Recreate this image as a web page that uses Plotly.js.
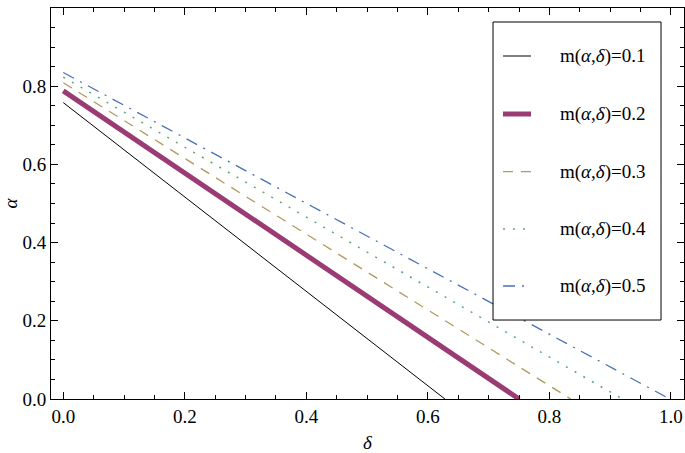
<!DOCTYPE html>
<html>
<head>
<meta charset="utf-8">
<script src="https://cdn.plot.ly/plotly-3.0.1.min.js"></script>
<style>html,body{margin:0;padding:0;background:#fff;}#chart{width:685px;height:453px;}</style>
</head>
<body>
<div id="chart"></div>
<script>
// Series: each line runs from (delta=0, alpha=alphaAtZero) to (delta=deltaAtZero, alpha=0)
const mValues = ["0.1", "0.2", "0.3", "0.4", "0.5"];
const alphaAtZero = [0.758, 0.788, 0.809, 0.823, 0.835];
const deltaAtZero = [0.628, 0.750, 0.835, 0.920, 0.998];

const colors = ["#000000", "#9a3b74", "#b09a5c", "#5aaa72", "#4a70b8"];
const widths = [1, 5, 1.3, 1.5, 1.3];
const dashes = ["solid", "solid", "10px,8px", "2px,8px", "12px,7px,2px,7px"];

const labels = mValues.map(m => "m(<i>α</i>,<i>δ</i>)=" + m);

const traces = mValues.map((m, i) => ({
  type: "scatter",
  mode: "lines",
  x: [0, deltaAtZero[i]],
  y: [alphaAtZero[i], 0],
  name: labels[i],
  line: {color: colors[i], width: widths[i], dash: dashes[i]}
}));

const font = {family: "Liberation Serif, Times New Roman, serif", size: 19, color: "#000"};

const axisCommon = {
  showline: true, linecolor: "#000", linewidth: 1, mirror: "allticks",
  ticks: "inside", ticklen: 7, tickwidth: 1, tickcolor: "#000",
  showgrid: false, zeroline: false, tickformat: ".1f", dtick: 0.2, tick0: 0,
  minor: {ticks: "inside", ticklen: 4, dtick: 0.05, tickcolor: "#000", showgrid: false},
  tickfont: font
};

// Legend box drawn in paper coordinates
const legBox = {x0: 0.6983, x1: 0.9637, y0: 0.2020, y1: 0.9642};
const legRowY = [0.8772, 0.7289, 0.5813, 0.4348, 0.2890];
const legLineX = [0.7141, 0.7583];
const legTextX = 0.8009;

const shapes = [{
  type: "rect", xref: "paper", yref: "paper",
  x0: legBox.x0, x1: legBox.x1, y0: legBox.y0, y1: legBox.y1,
  line: {color: "#000", width: 1}, fillcolor: "#fff", layer: "above"
}];
const annotations = [];
mValues.forEach((m, i) => {
  shapes.push({
    type: "line", xref: "paper", yref: "paper",
    x0: legLineX[0], x1: legLineX[1], y0: legRowY[i], y1: legRowY[i],
    line: {color: colors[i], width: widths[i], dash: dashes[i]}, layer: "above"
  });
  annotations.push({
    xref: "paper", yref: "paper", x: legTextX, y: legRowY[i],
    xanchor: "left", yanchor: "middle", showarrow: false,
    text: labels[i], font: font
  });
});

const layout = {
  width: 685, height: 453,
  margin: {l: 51, r: 1, t: 8, b: 54},
  paper_bgcolor: "#fff", plot_bgcolor: "#fff",
  font: font,
  showlegend: false,
  xaxis: Object.assign({}, axisCommon, {range: [-0.0202, 1.0214],
    title: {text: "<i>δ</i>", font: font, standoff: 11}}),
  yaxis: Object.assign({}, axisCommon, {range: [0, 1],
    title: {text: "<i>α</i>", font: font, standoff: 12}}),
  shapes: shapes,
  annotations: annotations
};

Plotly.newPlot("chart", traces, layout, {displayModeBar: false, staticPlot: true});
</script>
</body>
</html>
